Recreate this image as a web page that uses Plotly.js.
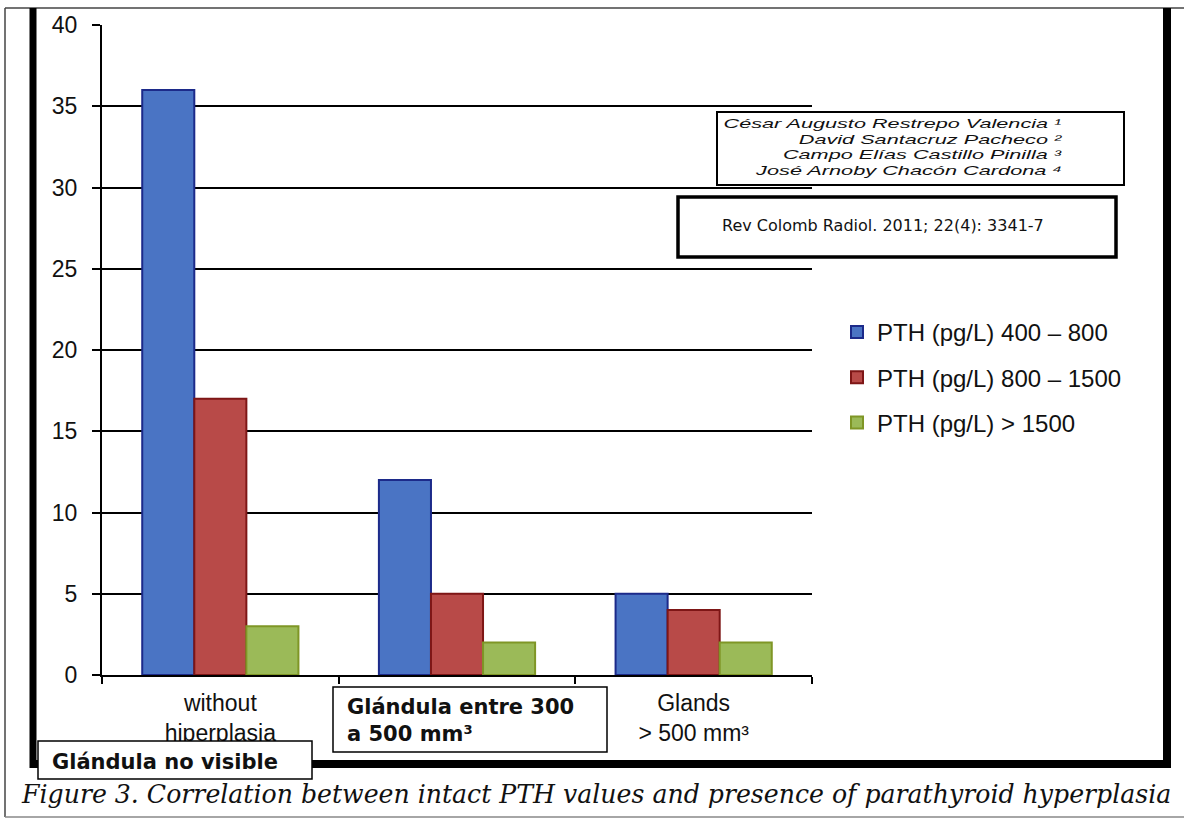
<!DOCTYPE html>
<html>
<head>
<meta charset="utf-8">
<script src="https://cdn.plot.ly/plotly-3.0.1.min.js"></script>
<style>
  html, body { margin: 0; padding: 0; background: #ffffff; }
  #chart { width: 1184px; height: 819px; }
</style>
</head>
<body>
<div id="chart"></div>
<script>
// ---------------- data ----------------
const categories = ["without hiperplasia", "Glándula entre 300 a 500 mm³", "Glands > 500 mm³"];
const tickLabels = ["without<br>hiperplasia", "", "Glands<br>> 500 mm³"];
const seriesNames = ["PTH (pg/L) 400 – 800", "PTH (pg/L) 800 – 1500", "PTH (pg/L) > 1500"];
const pth400to800 = [36, 12, 5];
const pth800to1500 = [17, 5, 4];
const pthOver1500 = [3, 2, 2];
const yTickValues = [0, 5, 10, 15, 20, 25, 30, 35, 40];

const authorLines = [
  "César Augusto Restrepo Valencia ¹",
  "David Santacruz Pacheco ²",
  "Campo Elías Castillo Pinilla ³",
  "José Arnoby Chacón Cardona ⁴"
];
const citationText = "Rev Colomb Radiol. 2011; 22(4): 3341-7";
const boxLabelNoVisible = "Glándula no visible";
const boxLabelMiddle = "Glándula entre 300<br>a 500 mm³";
const captionText = "Figure 3. Correlation between intact PTH values and presence of parathyroid hyperplasia";

// ---------------- layout helpers (pixel -> paper) ----------------
const PL = 102, PR = 812, PT = 25, PB = 675;
const W = 1184, H = 819;
const X = px => (px - PL) / (PR - PL);
const Y = py => (PB - py) / (PB - PT);

const fillColors = ["#4a74c4", "#b84a48", "#9bba58"];
const lineColors = ["#1c2a8a", "#7e1616", "#7f9626"];
const seriesValues = [pth400to800, pth800to1500, pthOver1500];

const traces = seriesValues.map((vals, i) => ({
  type: "bar",
  name: seriesNames[i],
  x: categories,
  y: vals,
  legendgroup: "g" + i,
  marker: { color: fillColors[i], line: { color: lineColors[i], width: 2 } },
  hoverinfo: "x+y+name"
}));

function rect(x0, y0, x1, y1, lw, fill) {
  return { type: "rect", xref: "paper", yref: "paper",
    x0: X(x0), x1: X(x1), y0: Y(y0), y1: Y(y1),
    line: { color: "#000", width: lw }, fillcolor: fill || "rgba(0,0,0,0)", layer: "above" };
}
function line(x0, y0, x1, y1, lw, col) {
  return { type: "line", xref: "paper", yref: "paper",
    x0: X(x0), x1: X(x1), y0: Y(y0), y1: Y(y1),
    line: { color: col || "#000", width: lw }, layer: "above" };
}

const shapes = [
  // outer thin border
  line(5, 8, 5, 817, 1.5, "#444"),
  line(5, 8, 1184, 8, 1.5, "#444"),
  line(5, 817, 1184, 817, 1.5, "#888"),
  // thick frame
  line(33, 8, 33, 768, 7),
  line(30, 764, 1171, 764, 8),
  line(1167, 8, 1167, 768, 8),
  // author box
  rect(717, 112, 1124, 185, 2, "#fff"),
  // citation box
  rect(678, 197, 1116, 257, 3.5, "#fff"),
  // overlay label boxes
  rect(333, 687, 607, 752, 1.5, "#fff"),
  rect(38, 741, 312, 779, 1.5, "#fff")
];

const annotations = [];
authorLines.forEach((t, i) => {
  annotations.push({ xref: "paper", yref: "paper", x: X(1064), y: Y(124 + i * 15.4),
    xanchor: "right", yanchor: "middle", showarrow: false, text: t,
    font: { family: "Liberation Sans, Arial", size: 13.5, style: "italic", color: "#111" } });
});
annotations.push({ xref: "paper", yref: "paper", x: X(720), y: Y(225),
  xanchor: "left", yanchor: "middle", showarrow: false, text: citationText,
  font: { family: "DejaVu Sans", size: 16, color: "#111" } });
annotations.push({ xref: "paper", yref: "paper", x: X(345), y: Y(720),
  xanchor: "left", yanchor: "middle", align: "left", showarrow: false,
  text: "<b>" + boxLabelMiddle + "</b>",
  font: { family: "DejaVu Sans", size: 21, color: "#111" } });
annotations.push({ xref: "paper", yref: "paper", x: X(50), y: Y(762),
  xanchor: "left", yanchor: "middle", showarrow: false,
  text: "<b>" + boxLabelNoVisible + "</b>",
  font: { family: "DejaVu Sans", size: 21, color: "#111" } });
annotations.push({ xref: "paper", yref: "paper", x: X(596), y: Y(794),
  xanchor: "center", yanchor: "middle", showarrow: false, text: captionText,
  font: { family: "DejaVu Serif", size: 25.2, style: "italic", color: "#111" } });

const layout = {
  width: W, height: H,
  margin: { l: PL, r: W - PR, t: PT, b: H - PB, autoexpand: false },
  paper_bgcolor: "#fff", plot_bgcolor: "#fff",
  barmode: "group", bargap: 0.34, bargroupgap: 0,
  showlegend: true,
  legend: { x: X(837), y: Y(310), xanchor: "left", yanchor: "top",
    traceorder: "grouped", tracegroupgap: 11, bgcolor: "rgba(0,0,0,0)",
    font: { family: "Liberation Sans, Arial", size: 24, color: "#111" } },
  xaxis: {
    type: "category", range: [-0.5, 2.5],
    tickmode: "array", tickvals: categories, ticktext: tickLabels,
    tickson: "boundaries", ticks: "outside", ticklen: 7, tickwidth: 2, tickcolor: "#000",
    showline: true, linecolor: "#000", linewidth: 2, showgrid: false,
    tickfont: { family: "Liberation Sans, Arial", size: 23, color: "#111" },
    automargin: false, ticklabelstandoff: 6
  },
  yaxis: {
    range: [0, 40], tickmode: "array", tickvals: yTickValues,
    ticks: "outside", ticklen: 8, tickwidth: 2, tickcolor: "#000",
    showline: true, linecolor: "#000", linewidth: 2,
    showgrid: true, gridcolor: "#000", gridwidth: 2, zeroline: false,
    tickfont: { family: "Liberation Sans, Arial", size: 23, color: "#111" },
    automargin: false, ticklabelstandoff: 10
  },
  shapes: shapes,
  annotations: annotations
};

// the author lines in the source are horizontally stretched: widen them in place,
// keeping their right edges fixed
const authorStretch = 1.6;
Plotly.newPlot("chart", traces, layout, { displayModeBar: false, staticPlot: true }).then(gd => {
  const groups = gd.querySelectorAll(".annotation");
  groups.forEach(g => {
    const idx = +g.getAttribute("data-index");
    if (idx >= authorLines.length) return;
    const t = g.querySelector("text.annotation-text");
    if (!t) return;
    const r0 = t.getBoundingClientRect();
    t.setAttribute("textLength", (r0.width * authorStretch).toFixed(1));
    t.setAttribute("lengthAdjust", "spacingAndGlyphs");
    const r1 = t.getBoundingClientRect();
    const dx = r0.right - r1.right;
    t.setAttribute("transform", "translate(" + dx.toFixed(1) + ",0)");
  });
});
</script>
</body>
</html>
